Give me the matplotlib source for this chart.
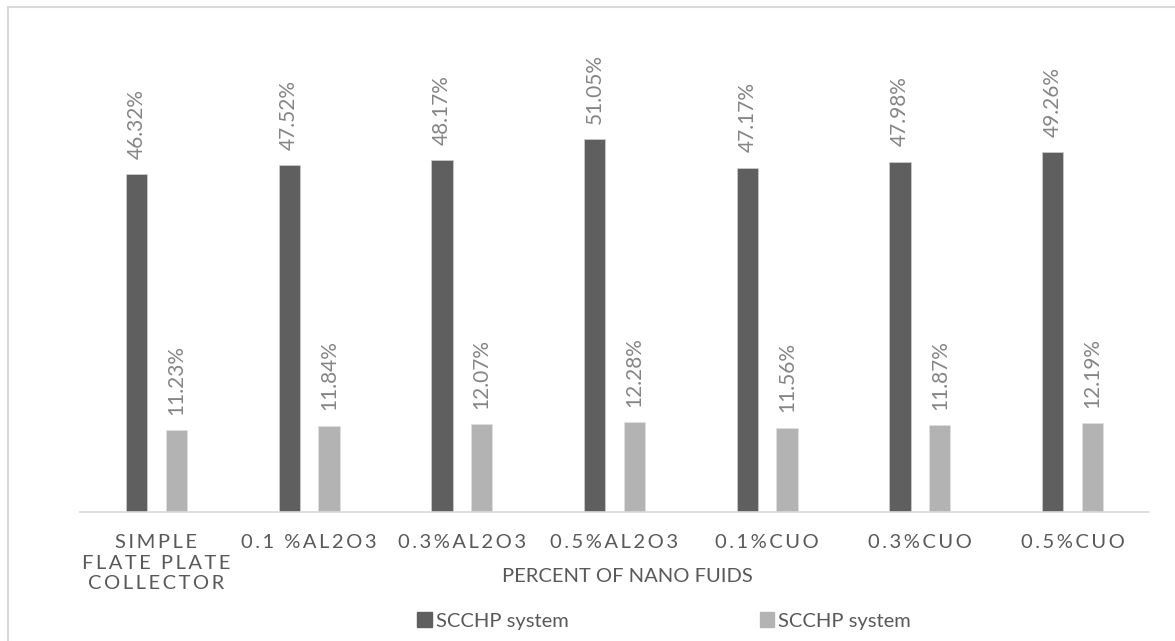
import matplotlib
matplotlib.use("Agg")
import matplotlib.pyplot as plt
import numpy as np
from matplotlib.patches import Patch, Rectangle

plt.rcParams['font.family'] = ['Lato', 'DejaVu Sans']

categories = ["SIMPLE\nFLATE PLATE\nCOLLECTOR", "0.1 %AL2O3", "0.3%AL2O3", "0.5%AL2O3",
              "0.1%CUO", "0.3%CUO", "0.5%CUO"]
scchp_a = [46.32, 47.52, 48.17, 51.05, 47.17, 47.98, 49.26]
scchp_b = [11.23, 11.84, 12.07, 12.28, 11.56, 11.87, 12.19]
series_names = ["SCCHP system", "SCCHP system"]

dark = "#5f5f5f"
light = "#b3b3b3"
label_col = "#858585"
text_col = "#595959"


def spaced(s):
    # widen the letter spacing of the category labels
    return "\n".join("\u2009".join(line) for line in s.split("\n"))


fig = plt.figure(figsize=(11.75, 6.41), dpi=100)
ax = fig.add_axes([80/1175, 129/641, 1069/1175, 438/641])

x = np.arange(len(categories))
w = 0.14
off = 0.13
b1 = ax.bar(x - off, scchp_a, w, color=dark, edgecolor="#d0d0d0", linewidth=0.5)
b2 = ax.bar(x + off, scchp_b, w, color=light, edgecolor="#e0e0e0", linewidth=0.5)

for bars, vals in ((b1, scchp_a), (b2, scchp_b)):
    for r, v in zip(bars, vals):
        ax.annotate(f"{v:.2f}%", (r.get_x() + r.get_width()/2, v), xytext=(0, 11),
                    textcoords="offset points", rotation=90, ha="center", va="bottom",
                    fontsize=15, color=label_col)

ax.set_xlim(-0.5, len(categories) - 0.5)
ax.set_ylim(0, 60)
ax.set_yticks([])
ax.set_xticks(x)
ax.set_xticklabels([spaced(c) for c in categories], fontsize=14.5, color=text_col,
                   linespacing=1.25, va="top")
ax.tick_params(axis="x", length=0, pad=16)
for s in ["top", "right", "left"]:
    ax.spines[s].set_visible(False)
ax.spines["bottom"].set_color("#d9d9d9")
ax.spines["bottom"].set_linewidth(1.2)

fig.text(627/1175, 1 - 577/641, "PERCENT OF NANO FUIDS", ha="center", va="center",
         fontsize=14.5, color=text_col)

handles = [Patch(color=dark), Patch(color=light)]
fig.legend(handles, series_names, ncol=2, loc="center", bbox_to_anchor=(664/1175, 1 - 621/641),
           frameon=False, fontsize=14.5, handlelength=0.7, handleheight=0.7, handletextpad=0.2,
           columnspacing=9.5, labelcolor=text_col)

# chart border
fig.patches.append(Rectangle((8/1175, -0.1), 1.2, 1.1 - 7/641, transform=fig.transFigure,
                             fill=False, edgecolor="#d9d9d9", linewidth=1.5))

fig.savefig("out.png", dpi=100, facecolor="white")
